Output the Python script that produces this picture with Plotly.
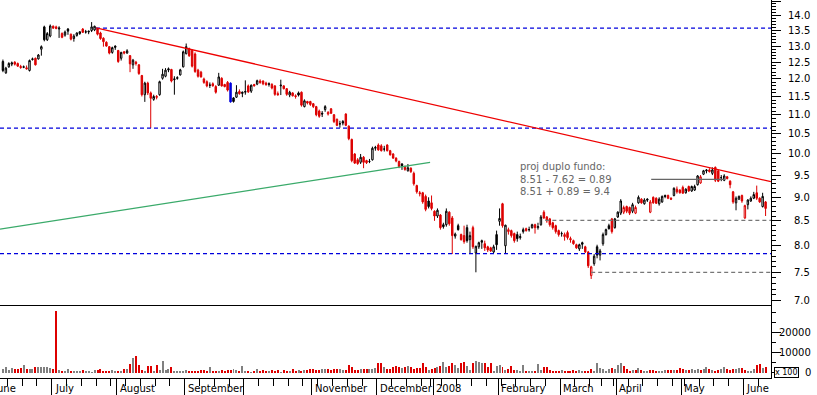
import numpy as np
import pandas as pd
import plotly.graph_objects as go

# ---------------- data ----------------
opens = [
    12.52, 12.18, 12.36, 12.44, 12.50, 12.46, 12.37, 12.36, 12.33, 12.25,
    12.58, 12.62, 12.60, 12.90, 13.62, 13.20, 13.32, 13.64, 13.62, 13.55,
    13.40, 13.35, 13.55, 13.38, 13.24, 13.34, 13.40, 13.55, 13.46, 13.48,
    13.50, 13.52, 13.55, 13.42, 13.25, 13.12, 12.98, 12.80, 13.00, 12.86,
    12.62, 12.82, 12.78, 12.70, 12.42, 12.50, 12.42, 12.10, 11.55, 11.88,
    11.60, 11.42, 11.50, 11.55, 12.02, 12.08, 12.30, 12.28, 11.98, 12.04,
    12.12, 12.36, 12.76, 12.92, 12.86, 12.75, 12.26, 12.20, 12.00, 11.92,
    11.82, 11.86, 11.78, 11.82, 12.02, 11.84, 11.90, 11.88, 11.46, 11.48,
    11.64, 11.62, 11.62, 11.80, 11.65, 11.84, 11.85, 11.94, 11.94, 11.88,
    11.84, 11.84, 11.80, 11.58, 11.80, 11.80, 11.72, 11.54, 11.60, 11.52,
    11.60, 11.62, 11.22, 11.36, 11.36, 11.30, 11.22, 11.10, 11.04, 11.14,
    11.02, 11.16, 11.00, 10.88, 10.76, 10.82, 11.02, 10.70, 10.36, 10.00,
    9.86, 9.80, 9.92, 9.84, 9.82, 9.86, 10.14, 10.22, 10.20, 10.12,
    10.22, 10.08, 10.00, 9.90, 9.82, 9.76, 9.70, 9.60, 9.66, 9.54,
    9.26, 9.10, 9.10, 9.02, 8.92, 8.88, 8.70, 8.60, 8.62, 8.42,
    8.42, 8.68, 8.56, 8.19, 8.40, 8.22, 8.20, 8.36, 8.12, 8.36,
    7.86, 7.98, 8.10, 8.04, 7.98, 7.96, 7.88, 8.22, 8.49, 8.86,
    8.00, 8.28, 8.30, 8.24, 8.22, 8.16, 8.28, 8.34, 8.32, 8.36,
    8.42, 8.36, 8.42, 8.68, 8.58, 8.54, 8.46, 8.40, 8.30, 8.24,
    8.18, 8.26, 8.14, 8.10, 8.02, 7.94, 8.06, 7.98, 7.88, 7.44,
    7.66, 7.98, 7.82, 8.04, 8.22, 8.40, 8.54, 8.36, 8.58, 8.66,
    8.68, 8.80, 8.78, 8.70, 8.66, 8.88, 8.96, 8.86, 8.96, 8.68,
    9.00, 8.98, 8.86, 8.90, 9.04, 9.04, 8.98, 9.04, 9.18, 9.16,
    9.22, 9.10, 9.24, 9.14, 9.16, 9.28, 9.32, 9.52, 9.62, 9.62,
    9.54, 9.68, 9.60, 9.44, 9.38, 9.46, 9.36, 9.12, 8.88, 8.96,
    9.04, 8.56, 8.84, 8.92, 8.98, 9.10, 8.98, 8.80, 8.90,
]
highs = [
    12.58, 12.36, 12.50, 12.52, 12.53, 12.49, 12.42, 12.40, 12.40, 12.58,
    12.64, 12.64, 12.75, 13.02, 13.66, 13.45, 13.70, 13.67, 13.66, 13.64,
    13.44, 13.50, 13.58, 13.40, 13.38, 13.44, 13.48, 13.58, 13.52, 13.50,
    13.78, 13.66, 13.58, 13.46, 13.28, 13.15, 13.00, 12.98, 13.02, 12.88,
    12.82, 12.84, 12.90, 12.72, 12.60, 12.54, 12.44, 12.12, 11.92, 11.92,
    11.64, 11.55, 11.54, 11.95, 12.30, 12.32, 12.34, 12.30, 12.08, 12.08,
    12.30, 12.86, 13.08, 12.95, 12.90, 12.80, 12.30, 12.24, 12.04, 11.96,
    11.90, 11.90, 11.82, 12.18, 12.05, 11.86, 11.94, 11.90, 11.48, 11.82,
    11.70, 11.64, 11.96, 11.84, 11.84, 11.86, 11.98, 11.99, 11.96, 11.92,
    11.90, 11.88, 11.82, 11.64, 11.98, 11.82, 11.74, 11.66, 11.62, 11.56,
    11.64, 11.64, 11.42, 11.38, 11.38, 11.32, 11.24, 11.14, 11.10, 11.26,
    11.10, 11.18, 11.02, 10.90, 10.84, 10.86, 11.04, 10.72, 10.38, 10.02,
    9.90, 10.00, 9.95, 9.86, 9.88, 10.18, 10.20, 10.26, 10.24, 10.20,
    10.24, 10.10, 10.02, 9.92, 9.84, 9.78, 9.72, 9.76, 9.68, 9.58,
    9.28, 9.14, 9.12, 9.06, 9.00, 9.04, 8.72, 8.76, 8.64, 8.46,
    8.76, 8.70, 8.60, 8.26, 8.44, 8.24, 8.40, 8.42, 8.28, 8.40,
    8.00, 8.08, 8.12, 8.10, 8.00, 7.98, 8.02, 8.30, 8.76, 8.88,
    8.42, 8.36, 8.32, 8.26, 8.28, 8.24, 8.36, 8.36, 8.38, 8.44,
    8.44, 8.46, 8.62, 8.72, 8.60, 8.56, 8.48, 8.42, 8.32, 8.28,
    8.26, 8.30, 8.18, 8.12, 8.04, 8.04, 8.08, 8.00, 7.90, 7.62,
    7.84, 8.02, 7.94, 8.26, 8.34, 8.44, 8.56, 8.56, 8.70, 8.96,
    8.82, 8.82, 8.80, 8.88, 8.82, 9.04, 8.98, 8.98, 8.98, 8.94,
    9.02, 9.00, 9.00, 9.04, 9.06, 9.06, 9.00, 9.22, 9.24, 9.18,
    9.26, 9.20, 9.26, 9.26, 9.28, 9.50, 9.50, 9.62, 9.64, 9.66,
    9.68, 9.70, 9.62, 9.50, 9.52, 9.48, 9.38, 9.14, 9.02, 9.04,
    9.06, 8.84, 8.96, 9.02, 9.12, 9.26, 9.00, 9.10, 8.92,
]
lows = [
    12.20, 12.15, 12.33, 12.38, 12.40, 12.36, 12.30, 12.32, 12.28, 12.22,
    12.55, 12.40, 12.58, 12.70, 13.15, 13.16, 13.28, 13.55, 13.54, 13.26,
    13.25, 13.30, 13.36, 13.18, 13.14, 13.30, 13.36, 13.42, 13.40, 13.38,
    13.45, 13.48, 13.34, 13.20, 12.98, 12.98, 12.74, 12.76, 12.88, 12.48,
    12.55, 12.74, 12.76, 12.20, 12.30, 12.40, 12.12, 11.50, 11.35, 11.54,
    10.65, 11.38, 11.42, 11.52, 11.98, 12.05, 12.20, 11.90, 11.55, 11.98,
    12.10, 12.34, 12.74, 12.66, 12.34, 12.18, 12.04, 12.04, 11.86, 11.76,
    11.74, 11.78, 11.58, 11.80, 11.78, 11.76, 11.64, 11.33, 11.33, 11.46,
    11.55, 11.48, 11.55, 11.60, 11.60, 11.78, 11.82, 11.86, 11.82, 11.80,
    11.78, 11.70, 11.52, 11.52, 11.54, 11.70, 11.52, 11.48, 11.50, 11.44,
    11.50, 11.22, 11.20, 11.28, 11.24, 11.18, 10.96, 10.92, 10.94, 11.08,
    10.98, 11.02, 10.78, 10.70, 10.66, 10.72, 10.70, 10.34, 9.80, 9.76,
    9.74, 9.76, 9.66, 9.76, 9.78, 9.84, 10.08, 10.08, 10.06, 10.06,
    10.06, 9.96, 9.88, 9.80, 9.66, 9.62, 9.60, 9.58, 9.55, 9.26,
    9.08, 9.02, 8.86, 8.70, 8.76, 8.72, 8.50, 8.56, 8.32, 8.34,
    8.38, 8.40, 7.84, 8.14, 8.30, 8.10, 8.04, 8.06, 7.84, 7.94,
    7.50, 7.94, 7.94, 7.90, 7.88, 7.88, 7.86, 7.92, 8.40, 8.36,
    7.86, 8.22, 8.16, 8.06, 8.08, 8.12, 8.24, 8.28, 8.28, 8.34,
    8.24, 8.32, 8.40, 8.54, 8.46, 8.38, 8.32, 8.24, 8.18, 8.18,
    8.10, 8.12, 8.06, 8.02, 7.94, 7.90, 7.94, 7.86, 7.58, 7.38,
    7.62, 7.76, 7.72, 8.00, 8.20, 8.32, 8.24, 8.34, 8.56, 8.62,
    8.64, 8.66, 8.62, 8.66, 8.64, 8.86, 8.86, 8.84, 8.90, 8.66,
    8.86, 8.86, 8.82, 8.88, 8.98, 8.96, 8.94, 9.02, 9.08, 9.08,
    9.08, 9.08, 9.12, 9.12, 9.14, 9.26, 9.30, 9.50, 9.54, 9.56,
    9.50, 9.34, 9.34, 9.36, 9.36, 9.40, 9.20, 8.86, 8.72, 8.94,
    8.88, 8.54, 8.74, 8.90, 8.96, 8.94, 8.88, 8.78, 8.60,
]
closes = [
    12.25, 12.32, 12.46, 12.48, 12.44, 12.38, 12.34, 12.35, 12.30, 12.55,
    12.60, 12.42, 12.72, 12.98, 13.20, 13.40, 13.65, 13.58, 13.57, 13.58,
    13.28, 13.45, 13.48, 13.22, 13.32, 13.42, 13.46, 13.44, 13.45, 13.46,
    13.62, 13.64, 13.38, 13.24, 13.14, 13.00, 12.78, 12.95, 12.96, 12.52,
    12.80, 12.78, 12.85, 12.45, 12.56, 12.46, 12.16, 11.55, 11.88, 11.60,
    11.45, 11.50, 11.48, 11.92, 12.14, 12.26, 12.27, 11.94, 12.00, 12.02,
    12.27, 12.82, 12.98, 12.70, 12.38, 12.22, 12.08, 12.06, 11.90, 11.80,
    11.82, 11.80, 11.62, 12.06, 11.80, 11.78, 11.68, 11.35, 11.36, 11.62,
    11.58, 11.59, 11.64, 11.63, 11.82, 11.80, 11.95, 11.90, 11.86, 11.84,
    11.86, 11.74, 11.56, 11.55, 11.82, 11.72, 11.56, 11.62, 11.52, 11.50,
    11.54, 11.26, 11.38, 11.32, 11.28, 11.22, 11.00, 10.96, 11.02, 11.22,
    11.06, 11.04, 10.82, 10.72, 10.76, 10.78, 10.72, 10.38, 9.84, 9.78,
    9.77, 9.92, 9.80, 9.79, 9.82, 10.14, 10.16, 10.10, 10.08, 10.12,
    10.08, 9.98, 9.90, 9.83, 9.70, 9.72, 9.63, 9.67, 9.58, 9.30,
    9.12, 9.08, 8.90, 8.74, 8.80, 8.76, 8.60, 8.72, 8.36, 8.38,
    8.70, 8.44, 8.20, 8.23, 8.32, 8.12, 8.08, 8.10, 8.20, 7.98,
    7.99, 8.06, 8.07, 7.96, 7.92, 7.90, 7.98, 8.02, 8.55, 8.40,
    8.41, 8.32, 8.20, 8.10, 8.14, 8.18, 8.32, 8.30, 8.32, 8.42,
    8.36, 8.38, 8.58, 8.56, 8.50, 8.42, 8.36, 8.28, 8.22, 8.24,
    8.22, 8.16, 8.12, 8.04, 7.96, 8.02, 8.03, 7.88, 7.62, 7.60,
    7.80, 7.82, 7.90, 8.22, 8.32, 8.34, 8.28, 8.54, 8.68, 8.92,
    8.78, 8.70, 8.66, 8.84, 8.78, 9.00, 8.88, 8.94, 8.94, 8.90,
    8.88, 8.87, 8.96, 9.02, 9.02, 8.98, 8.96, 9.20, 9.12, 9.10,
    9.09, 9.18, 9.14, 9.24, 9.24, 9.48, 9.46, 9.60, 9.60, 9.58,
    9.62, 9.38, 9.36, 9.44, 9.48, 9.42, 9.28, 8.90, 8.98, 9.02,
    8.92, 8.82, 8.94, 8.98, 9.06, 8.98, 8.90, 9.02, 8.76,
]
volumes = [
    1700, 3000, 1300, 2300, 1700, 2000, 2300, 3600, 1700, 1700,
    1700, 3000, 2600, 3000, 3000, 3000, 2300, 2000, 30400, 1300,
    1000, 1000, 2000, 800, 800, 1000, 500, 1200, 1000, 700,
    300, 1300, 1300, 1700, 700, 700, 700, 1300, 1000, 1000,
    500, 1700, 1700, 4100, 7400, 8250, 4000, 1300, 800, 3300,
    3300, 1000, 3600, 1300, 5800, 1300, 1700, 2600, 1000, 700,
    1000, 700, 1300, 1000, 1000, 1000, 1000, 1300, 1300, 1000,
    3000, 1000, 700, 1000, 1300, 700, 1300, 1300, 1700, 1300,
    1000, 3300, 800, 700, 300, 1000, 1700, 800, 1300, 1000,
    800, 1300, 700, 1300, 300, 1300, 700, 700, 2000, 1000,
    1300, 1000, 1300, 1300, 1700, 1700, 1300, 1300, 1700, 1700,
    1700, 1300, 1700, 1700, 1700, 1300, 1300, 4000, 2600, 1300,
    1300, 1700, 1700, 1700, 2000, 2000, 2300, 4600, 4600, 3000,
    1700, 2000, 2600, 3300, 3000, 2300, 2600, 3300, 2600, 1700,
    2300, 2300, 4600, 3000, 1300, 1700, 2300, 3000, 3300, 5300,
    2600, 3300, 5000, 4000, 2300, 5000, 5400, 3300, 1300, 4600,
    5600, 5300, 5000, 5000, 3000, 5000, 1000, 3300, 3600, 3000,
    1300, 2000, 3300, 1300, 1300, 1000, 3600, 1000, 700, 700,
    1000, 4300, 1300, 2600, 3000, 1300, 1000, 1000, 1000, 1300,
    700, 700, 1000, 1300, 1000, 1300, 1000, 1000, 1000, 1700,
    700, 4600, 2300, 1700, 700, 2000, 2300, 2000, 4000, 5000,
    3300, 1700, 1000, 1300, 1300, 2300, 1300, 1000, 1000, 1300,
    1300, 1000, 700, 1000, 1300, 1300, 1300, 1300, 1300, 2300,
    1700, 1300, 1300, 1700, 1300, 1700, 1300, 1700, 2600, 1700,
    1300, 1000, 1300, 1700, 2600, 1700, 1300, 1700, 1700, 2300,
    2300, 1300, 1000, 1000, 1700, 4000, 4300, 2300, 2600,
]

# trading calendar (Euronext)
start_date, end_date = "2007-06-07", "2008-06-11"
holidays = ["2007-12-25", "2007-12-26", "2008-01-01", "2008-03-21", "2008-03-24", "2008-05-01"]
month_labels = ["June", "July", "August", "September", "", "November", "December",
                "2008", "February", "March", "April", "May", "June"]
highlight_days = [77]

price_tick_values = [7.0, 7.5, 8.0, 8.5, 9.0, 9.5, 10.0, 10.5, 11.0, 11.5, 12.0, 12.5, 13.0, 13.5, 14.0]
volume_tick_values = [0, 10000, 20000]

# drawn study lines
resistance_level = 13.58
resistance_start = 31.5
support_mid_level = 10.65
support_low_level = 7.85
down_trend_x = [31.5, 259.8]
down_trend_y = [13.59, 9.35]
up_trend_x = [-0.99, 144.5]
up_trend_y = [8.33, 9.80]
neckline_level = 8.51
neckline_start = 183.5
bottom_level = 7.50
bottom_start = 199
target_level = 9.4
target_x = [219.3, 244.3]
note_lines = ["proj duplo fundo:", "8.51 - 7.62 = 0.89", "8.51 + 0.89 = 9.4"]

n = len(closes)
assert len(opens) == n and len(highs) == n and len(lows) == n and len(volumes) == n, \
    (len(opens), len(highs), len(lows), len(closes), len(volumes))

days = pd.bdate_range(start_date, end_date)
days = days[~days.isin(pd.to_datetime(holidays))]
days = days[:n]
idx = np.arange(n)

# month starts and week starts
month_starts = [i for i in range(1, len(days)) if days[i].month != days[i - 1].month]
first_month_pos = -len(pd.bdate_range("2007-06-01", start_date)) + 1
month_pos = [first_month_pos] + month_starts
week_starts = [i for i in range(1, len(days)) if days[i].weekday() < days[i - 1].weekday()]

# ---------------- styling / geometry ----------------
W, H = 817, 395
PLOT_R = 771
PRICE_BOTTOM = 305
VOL_BOTTOM = 378
xr = [-0.99, 259.83]
xdom = [0, PLOT_R / W]
price_range = [np.log10(6.927), np.log10(14.54)]
vol_range = [-2600, 33500]
FONT = "DejaVu Sans, Verdana, sans-serif"
RED = "#dd0000"
BLACK = "#000000"
GREY = "#808080"
BLUE = "#0000dd"


def xpaper(v):
    return xdom[0] + (v - xr[0]) / (xr[1] - xr[0]) * (xdom[1] - xdom[0])


o = np.array(opens); h = np.array(highs); l = np.array(lows); c = np.array(closes)
prev = np.concatenate([[c[0]], c[:-1]])
down = c < prev
hl = np.isin(idx, highlight_days)

fig = go.Figure()

# volume
vol_colors = [RED if d else GREY for d in down]
fig.add_trace(go.Bar(x=idx, y=volumes, marker=dict(color=vol_colors, line=dict(width=0)),
                     width=0.34, xaxis="x2", yaxis="y2", hoverinfo="skip"))


def candles(mask, color, fill_up="white"):
    return go.Candlestick(
        x=idx[mask], open=o[mask], high=h[mask], low=l[mask], close=c[mask],
        increasing=dict(line=dict(color=color, width=1), fillcolor=fill_up),
        decreasing=dict(line=dict(color=color, width=1), fillcolor=color),
        whiskerwidth=0, xaxis="x", yaxis="y", hoverinfo="skip", showlegend=False)


fig.add_trace(candles((~down) & (~hl), BLACK))
fig.add_trace(candles(down & (~hl), RED))
fig.add_trace(candles(hl, BLUE, fill_up=BLUE))


def line(x, y, color, dash="solid", width=1):
    fig.add_trace(go.Scatter(x=x, y=y, mode="lines", line=dict(color=color, dash=dash, width=width),
                             xaxis="x", yaxis="y", hoverinfo="skip", showlegend=False))


bdash = "4px,3px"
line([resistance_start, xr[1]], [resistance_level] * 2, BLUE, bdash, 1.3)
line([xr[0], xr[1]], [support_mid_level] * 2, BLUE, bdash, 1.3)
line([xr[0], xr[1]], [support_low_level] * 2, BLUE, bdash, 1.3)
line([neckline_start, xr[1]], [neckline_level] * 2, "#777777", bdash, 1.3)
line([bottom_start, xr[1]], [bottom_level] * 2, "#777777", bdash, 1.3)
line(target_x, [target_level] * 2, "#666666", "solid", 1.3)
line(up_trend_x, up_trend_y, "#3aaa6a", "solid", 1.3)
line(down_trend_x, down_trend_y, "#ee0000", "solid", 1.3)

price_minor = [round(v, 1) for v in np.arange(7.0, 14.55, 0.1) if round(v * 10) % 5 != 0]

fig.update_layout(
    width=W, height=H, margin=dict(l=0, r=0, t=0, b=0),
    paper_bgcolor="white", plot_bgcolor="white", showlegend=False,
    boxgap=0.3, bargap=0,
    font=dict(family=FONT, size=10, color="black"),
    xaxis=dict(domain=xdom, range=xr, anchor="y", showline=True, linecolor="black", linewidth=1,
               ticks="", showticklabels=False, showgrid=False, zeroline=False,
               rangeslider=dict(visible=False), fixedrange=True),
    yaxis=dict(domain=[1 - PRICE_BOTTOM / H, 1], type="log", range=price_range, side="right",
               anchor="x", showline=True, linecolor="black", linewidth=1, ticks="outside",
               ticklen=9, tickcolor="black", tickmode="array", tickvals=price_tick_values + [14.5],
               showticklabels=False, showgrid=False, zeroline=False,
               minor=dict(tickmode="array", tickvals=price_minor, ticks="outside", ticklen=4,
                          tickcolor="black", showgrid=False)),
    xaxis2=dict(domain=xdom, range=xr, anchor="y2", showline=True, linecolor="black", linewidth=1,
                ticks="outside", ticklen=17, tickcolor="black", tickmode="array",
                tickvals=[p - 0.5 for p in month_pos], showticklabels=False, showgrid=False,
                zeroline=False,
                minor=dict(tickmode="array", tickvals=[p - 0.5 for p in week_starts], ticks="outside",
                           ticklen=7, tickcolor="black", showgrid=False)),
    yaxis2=dict(domain=[1 - VOL_BOTTOM / H, 1 - PRICE_BOTTOM / H], range=vol_range, side="right",
                anchor="x2", showline=True, linecolor="black", linewidth=1, ticks="outside",
                ticklen=9, tickcolor="black", tickmode="array", tickvals=volume_tick_values,
                showticklabels=False, showgrid=False, zeroline=False,
                minor=dict(tickmode="array", tickvals=[5000, 15000, 25000, 30000], ticks="outside",
                           ticklen=4, tickcolor="black", showgrid=False)),
)

ann = []
for v in price_tick_values:
    ann.append(dict(xref="paper", yref="y", x=812 / W, y=np.log10(v), text=f"{v:.1f}",
                    showarrow=False, xanchor="right", yanchor="middle",
                    font=dict(family=FONT, size=10, color="black")))
for v in volume_tick_values:
    ann.append(dict(xref="paper", yref="y2", x=813 / W, y=v, text=str(v),
                    showarrow=False, xanchor="right", yanchor="middle",
                    font=dict(family=FONT, size=10, color="black")))
for p, lab in zip(month_pos, month_labels):
    if lab:
        ann.append(dict(xref="paper", yref="paper", x=xpaper(p - 0.5) + 1 / W, y=1 - 388.5 / H,
                        text=lab, showarrow=False, xanchor="left", yanchor="middle",
                        font=dict(family=FONT, size=10, color="black")))
ann.append(dict(xref="paper", yref="paper", x=773.5 / W, y=1 - 372.5 / H, text="x 100",
                showarrow=False, xanchor="left", yanchor="middle", bgcolor="white",
                bordercolor="black", borderwidth=1, borderpad=0,
                font=dict(family=FONT, size=8, color="black")))
for k, t in enumerate(note_lines):
    ann.append(dict(xref="paper", yref="paper", x=518 / W, y=1 - (166.5 + 12.5 * k) / H, text=t,
                    showarrow=False, xanchor="left", yanchor="middle",
                    font=dict(family=FONT, size=10, color="#666666")))
fig.update_layout(annotations=ann)

fig.write_html("out.html", config={"displayModeBar": False},
               post_script="document.body.style.margin='0';document.body.style.padding='0';")
